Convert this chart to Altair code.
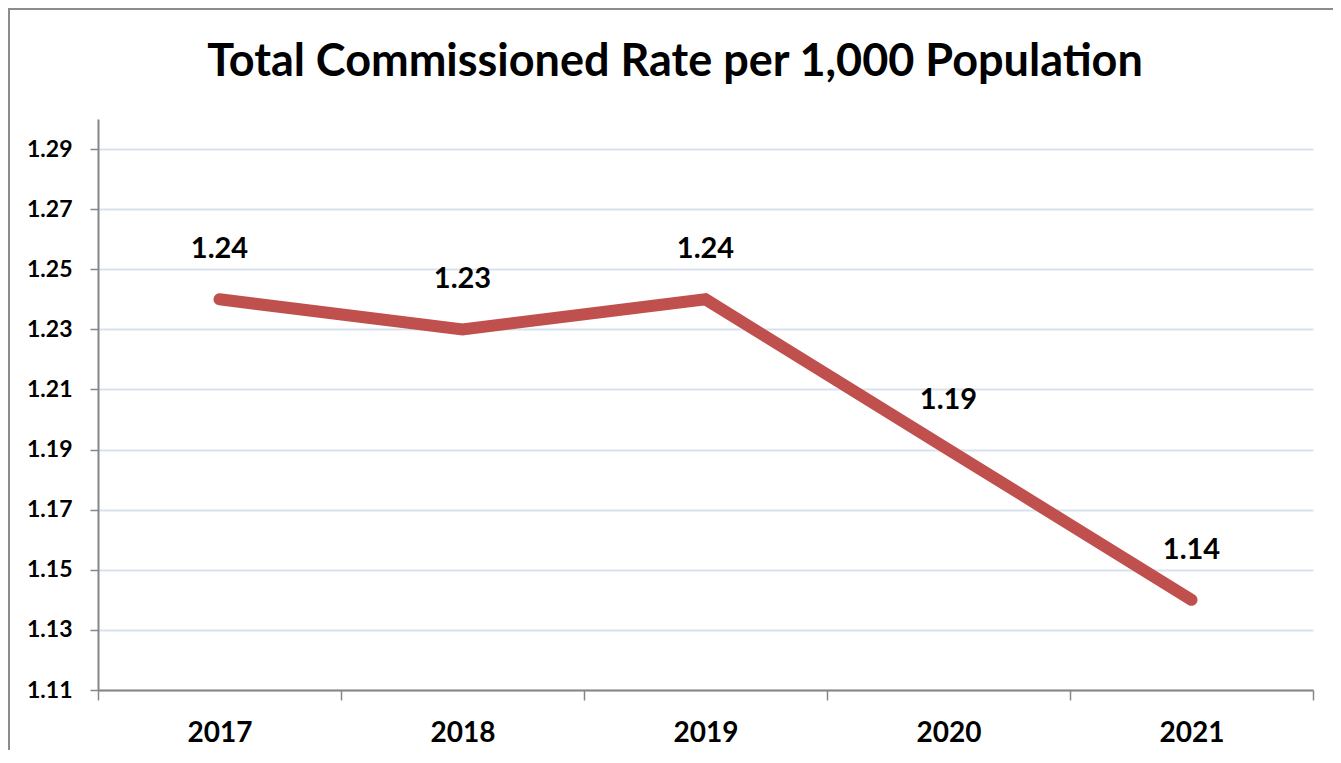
import altair as alt
import pandas as pd

years = ["2017", "2018", "2019", "2020", "2021"]
rates = [1.24, 1.23, 1.24, 1.19, 1.14]
y_ticks = [1.11, 1.13, 1.15, 1.17, 1.19, 1.21, 1.23, 1.25, 1.27, 1.29]
title_text = "Total Commissioned Rate per 1,000 Population"

df = pd.DataFrame({"year": years, "rate": rates})
df["label"] = [f"{v:.2f}" for v in rates]
title_df = pd.DataFrame({"t": [title_text]})

FONT = "Lato"

x_enc = alt.X("year:N", sort=years, title=None,
              scale=alt.Scale(paddingInner=0, paddingOuter=0),
              axis=alt.Axis(tickBand="extent", labelAngle=0, labelFont=FONT,
                            labelFontSize=28, labelFontWeight="bold", labelColor="black",
                            labelPadding=19, tickSize=10, tickColor="#868686",
                            domainColor="#868686", domainWidth=2, tickWidth=1.5, grid=False))
y_enc = alt.Y("rate:Q", title=None,
              scale=alt.Scale(domain=[1.11, 1.30], nice=False, zero=False),
              axis=alt.Axis(values=y_ticks, format=".2f", labelFont=FONT,
                            labelFontSize=23, labelFontWeight="bold", labelColor="black",
                            labelPadding=18, tickSize=8, tickColor="#868686",
                            domainColor="#868686", domainWidth=2, tickWidth=1.5,
                            grid=True, gridColor="#d9e1ef", gridWidth=2))

frame_top = alt.Chart(title_df).mark_rule(stroke="#8c8c8c", strokeWidth=2).encode(
    x=alt.value(-89), x2=alt.value(1400), y=alt.value(-110)
)
frame_left = alt.Chart(title_df).mark_rule(stroke="#8c8c8c", strokeWidth=2).encode(
    x=alt.value(-89), y=alt.value(-111), y2=alt.value(800)
)

title = alt.Chart(title_df).mark_text(font=FONT, fontSize=45, fontWeight="bold",
                                      color="black", align="center", baseline="middle").encode(
    text="t:N", x=alt.value(577), y=alt.value(-57)
)

line = alt.Chart(df).mark_line(color="#c0504d", strokeWidth=12, strokeCap="round",
                               strokeJoin="miter").encode(x=x_enc, y=y_enc)

labels = alt.Chart(df).mark_text(font=FONT, fontSize=29, fontWeight="bold", color="black",
                                 dy=-50).encode(
    x=alt.X("year:N", sort=years), y="rate:Q", text="label:N")

chart = alt.layer(frame_top, frame_left, title, line, labels).properties(
    width=1215, height=571,
    autosize=alt.AutoSizeParams(type="none"),
    padding={"left": 90, "top": 111, "right": 20, "bottom": 60},
).configure_view(stroke=None)

chart.save("out.html", embed_options={"renderer": "svg", "actions": False})
